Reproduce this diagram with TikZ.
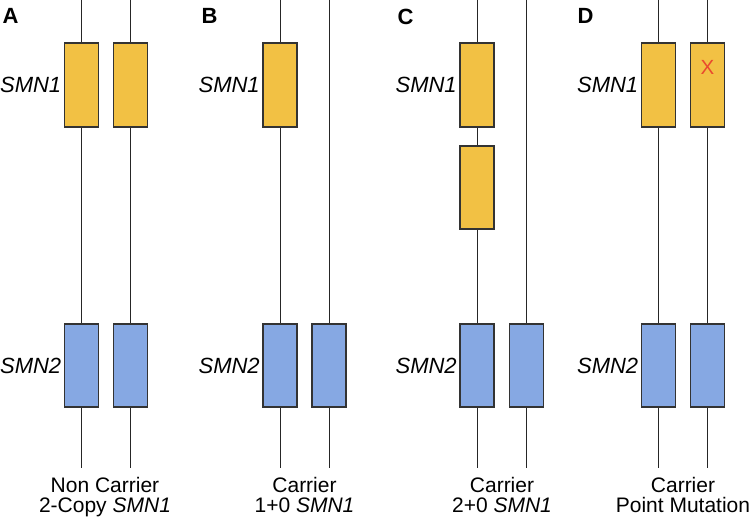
\documentclass[tikz,border=0pt]{standalone}
\usepackage{fontspec}
\setmainfont{Liberation Sans}
\usetikzlibrary{positioning}

\definecolor{smnyellow}{HTML}{F2C144}
\definecolor{smnblue}{HTML}{86A8E3}
\definecolor{mutred}{HTML}{EA4A2E}

\tikzset{
  gene/.style={draw=black!80, line width=1.2pt, minimum width=34pt,
    minimum height=83pt, inner sep=0pt},
  smnone/.style={gene, fill=smnyellow},
  smntwo/.style={gene, fill=smnblue},
  chrom/.style={line width=0.9pt, draw=black!85},
  genelabel/.style={font=\fontsize{22}{25}\selectfont\itshape, inner sep=0pt},
  panel/.style={font=\fontsize{22}{25}\selectfont\bfseries, anchor=north west, inner sep=0pt},
  status/.style={font=\fontsize{21}{20}\selectfont, align=center, anchor=north, inner sep=0pt}
}

\begin{document}
\begin{tikzpicture}[x=1pt,y=-1pt]
  \useasboundingbox (0,0) rectangle (750,517);

  % chromosome ends
  \coordinate (A1t) at (81.5,0);  \coordinate (A1b) at (81.5,468);
  \coordinate (A2t) at (130.5,0); \coordinate (A2b) at (130.5,468);
  \coordinate (B1t) at (280,0);   \coordinate (B1b) at (280,468);
  \coordinate (B2t) at (329,0);   \coordinate (B2b) at (329,468);
  \coordinate (C1t) at (477,0);   \coordinate (C1b) at (477,468);
  \coordinate (C2t) at (526.5,0); \coordinate (C2b) at (526.5,468);
  \coordinate (D1t) at (658.5,0); \coordinate (D1b) at (658.5,468);
  \coordinate (D2t) at (707.5,0); \coordinate (D2b) at (707.5,468);

  \draw[chrom] (A1t) -- (A1b);
  \draw[chrom] (A2t) -- (A2b);
  \draw[chrom] (B1t) -- (B1b);
  \draw[chrom] (B2t) -- (B2b);
  \draw[chrom] (C1t) -- (C1b);
  \draw[chrom] (C2t) -- (C2b);
  \draw[chrom] (D1t) -- (D1b);
  \draw[chrom] (D2t) -- (D2b);

  % A: non carrier
  \node[panel] (pA) at (2.5,8.5) {A};
  \node[smnone, minimum height=84pt] (A1y) at (81.5,85) {};
  \node[smnone, minimum height=84pt] (A2y) at (130.5,85) {};
  \node[smntwo] (A1b2) at (81.5,365.5) {};
  \node[smntwo] (A2b2) at (130.5,365.5) {};
  \node[genelabel, left=2.5pt of A1y] (Aone) {SMN1};
  \node[genelabel, left=2.5pt of A1b2] (Atwo) {SMN2};
  \node[status] (sA) at (105,477) {Non Carrier\\2-Copy \textit{SMN1}};

  % B: 1+0
  \node[panel] (pB) at (201.5,8.5) {B};
  \node[smnone, minimum height=84pt] (B1y) at (280,85) {};
  \node[smntwo] (B1b2) at (280,365.5) {};
  \node[smntwo] (B2b2) at (329,365.5) {};
  \node[genelabel, left=2.5pt of B1y] (Bone) {SMN1};
  \node[genelabel, left=2.5pt of B1b2] (Btwo) {SMN2};
  \node[status] (sB) at (304.5,477) {Carrier\\1+0 \textit{SMN1}};

  % C: 2+0
  \node[panel] (pC) at (397.5,8.5) {C};
  \node[smnone, minimum height=84pt] (C1y) at (477,85) {};
  \node[smnone] (C1z) at (477,187.5) {};
  \node[smntwo] (C1b2) at (477,365.5) {};
  \node[smntwo] (C2b2) at (526.5,365.5) {};
  \node[genelabel, left=2.5pt of C1y] (Cone) {SMN1};
  \node[genelabel, left=2.5pt of C1b2] (Ctwo) {SMN2};
  \node[status] (sC) at (502,477) {Carrier\\2+0 \textit{SMN1}};

  % D: point mutation
  \node[panel] (pD) at (577.5,8.5) {D};
  \node[smnone, minimum height=84pt] (D1y) at (658.5,85) {};
  \node[smnone, minimum height=84pt] (D2y) at (707.5,85) {};
  \node[text=mutred, font=\fontsize{20.5}{20}\selectfont, inner sep=0pt] (mut) at (707.5,67) {X};
  \node[smntwo] (D1b2) at (658.5,365.5) {};
  \node[smntwo] (D2b2) at (707.5,365.5) {};
  \node[genelabel, left=2.5pt of D1y] (Done) {SMN1};
  \node[genelabel, left=2.5pt of D1b2] (Dtwo) {SMN2};
  \node[status] (sD) at (683,477) {Carrier\\Point Mutation};
\end{tikzpicture}
\end{document}
